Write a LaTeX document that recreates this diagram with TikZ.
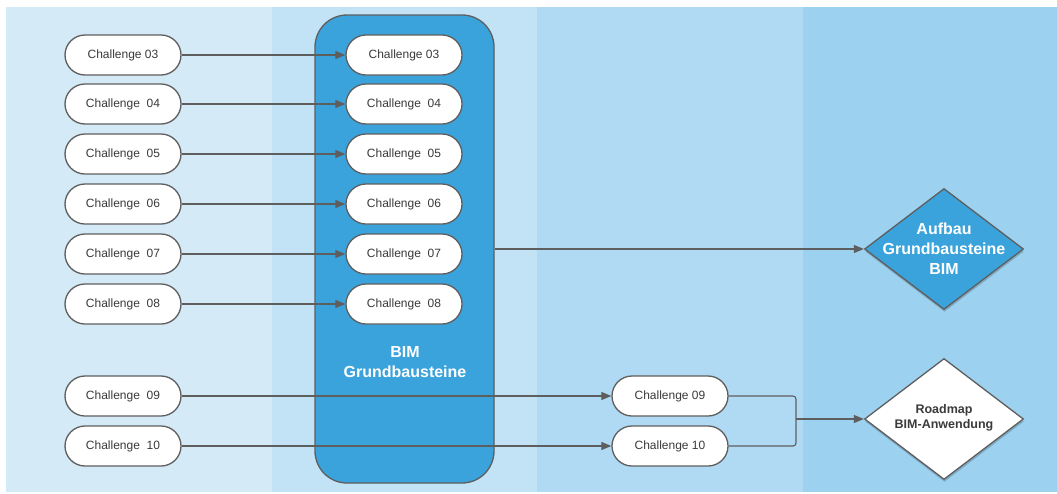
\documentclass[tikz,border=0pt]{standalone}
\usepackage{fontspec}
\setmainfont{Liberation Sans}
\usetikzlibrary{math, shapes.geometric, arrows.meta, shadows}
\definecolor{laneA}{HTML}{D5EAF7}
\definecolor{laneB}{HTML}{C2E2F5}
\definecolor{laneC}{HTML}{B0DAF3}
\definecolor{laneD}{HTML}{9CD1F0}
\definecolor{bimblue}{HTML}{3BA3DC}
\definecolor{edgegray}{HTML}{5E5E5E}
\definecolor{txtgray}{HTML}{3A3A3A}
\tikzstyle{pill} = [draw=edgegray, line width=1.3pt, fill=white, rounded corners=20pt, minimum width=116pt, minimum height=40pt, inner sep=0pt, text=txtgray, font=\fontsize{12}{14}\selectfont]
\tikzstyle{bimbox} = [draw=edgegray, line width=1.3pt, fill=bimblue, rounded corners=32pt, minimum width=179pt, minimum height=468pt, inner sep=0pt]
\tikzstyle{dia} = [diamond, draw=edgegray, line width=1.3pt, minimum width=159pt, minimum height=121pt, inner sep=0pt, drop shadow={shadow xshift=0.5pt, shadow yshift=-2.5pt, opacity=0.18, fill=black}]
\tikzstyle{bold} = [align=center, inner sep=0pt, font=\bfseries\fontsize{16}{20}\selectfont, text=white]
\tikzstyle{conn} = [draw=edgegray, line width=1.1pt]

\begin{document}
\begin{tikzpicture}[x=1pt, y=-1pt, >={Triangle[length=10pt,width=8pt]}]
                \useasboundingbox (0,0) rectangle (1057,493);
                % lanes
                \fill[laneA] (6,7) rectangle (272,492);
                \fill[laneB] (272,7) rectangle (537,492);
                \fill[laneC] (537,7) rectangle (803,492);
                \fill[laneD] (803,7) rectangle (1057,492);

                \node[bimbox] (bim) at (404.5,249) {};
                \node[bold] (bimtext) at (405,362) {BIM\\Grundbausteine};

                \foreach \n/\y/\t in {3/55/{Challenge 03}, 4/104/{Challenge~~04}, 5/154/{Challenge~~05}, 6/204/{Challenge~~06}, 7/254/{Challenge~~07}, 8/304/{Challenge~~08}} {
                    \node[pill] (l\n) at (123,\y) {\t};
                    \node[pill] (m\n) at (404,\y) {\t};
                    \draw[conn, ->] (l\n) -- (m\n);
                }
                \foreach \n/\y/\t/\s in {9/396/{Challenge~~09}/{Challenge 09}, 10/446/{Challenge~~10}/{Challenge 10}} {
                    \node[pill] (l\n) at (123,\y) {\t};
                    \node[pill] (r\n) at (670,\y) {\s};
                    \draw[conn, ->] (l\n) -- (r\n);
                }

                \node[dia, fill=bimblue] (aufbau) at (944,249) {};
                \node[bold] (aufbautext) at (aufbau) {Aufbau\\Grundbausteine\\BIM};
                \draw[conn, ->] (bim) -- (aufbau);

                \node[dia, fill=white] (roadmap) at (944,419) {};
                \node[bold, text=txtgray, font=\bfseries\fontsize{12.5}{15.5}\selectfont] (roadmaptext) at (944,418) {Roadmap\\BIM-Anwendung};
                \coordinate (merge) at (796,419);
                \draw[conn, rounded corners=3pt] (r9) -| (merge);
                \draw[conn, rounded corners=3pt] (r10) -| (merge);
                \draw[conn, ->] (merge) -- (roadmap);
            \end{tikzpicture}
\end{document}
